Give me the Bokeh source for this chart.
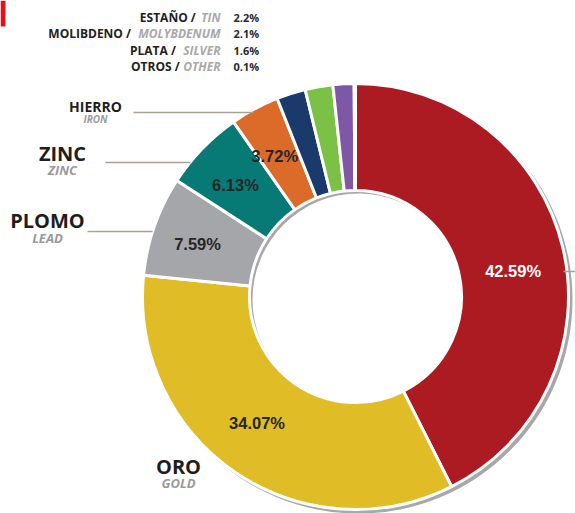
import math
from bokeh.plotting import figure
from bokeh.models import Range1d, ColumnDataSource
from bokeh.embed import file_html
from bokeh.resources import INLINE
from bokeh.core.properties import value

# ---------------- data ----------------
names_es = ["COBRE", "ORO", "PLOMO", "ZINC", "HIERRO", "ESTAÑO", "MOLIBDENO", "PLATA", "OTROS"]
names_en = ["COPPER", "GOLD", "LEAD", "ZINC", "IRON", "TIN", "MOLYBDENUM", "SILVER", "OTHER"]
shares = [42.59, 34.07, 7.59, 6.13, 3.72, 2.2, 2.1, 1.6, 0.1]
slice_labels = ["42.59%", "34.07%", "7.59%", "6.13%", "3.72%"]
legend_pct = ["2.2%", "2.1%", "1.6%", "0.1%"]
colors = ["#ad1b22", "#e0bc27", "#a5a6a9", "#077a76", "#dc6a28",
          "#1b3a6c", "#7bc145", "#7f58a5", "#c9c9c9"]

# ---------------- layout ----------------
W, H = 575, 513
def Y(y):
    return H - y

CX, CY = 355, Y(296)
R_OUT, R_IN = 213, 106

p = figure(width=W, height=H, x_range=Range1d(0, W), y_range=Range1d(0, H),
           output_backend="svg", toolbar_location=None, min_border=0)
p.axis.visible = False
p.grid.visible = False
p.outline_line_color = None
p.background_fill_color = "white"

total = sum(shares)
starts, ends, cum = [], [], 0.0
for s in shares:
    starts.append(math.pi / 2 - 2 * math.pi * cum / total)
    cum += s
    ends.append(math.pi / 2 - 2 * math.pi * cum / total)

src = ColumnDataSource(dict(x=[CX] * len(shares), y=[CY] * len(shares),
                            start=starts, end=ends, color=colors))

# soft shadow ring (offset right/down)
p.annular_wedge(x=CX + 3, y=CY - 3, inner_radius=R_IN, outer_radius=R_OUT + 1,
                start_angle=0, end_angle=2 * math.pi,
                fill_color="#a8a8a8", line_color=None)

p.annular_wedge(x="x", y="y", inner_radius=R_IN, outer_radius=R_OUT,
                start_angle="start", end_angle="end", direction="clock",
                fill_color="color", line_color="white", line_width=3, source=src)

# slice value labels
nudge = [(2, 12), (-8, -5), (-7, 1), (-5, 0), (-5, 0)]
lx, ly = [], []
for i, lab in enumerate(slice_labels):
    mid = (starts[i] + ends[i]) / 2
    rl = 160
    lx.append(CX + rl * math.cos(mid) + nudge[i][0])
    ly.append(CY + rl * math.sin(mid) - nudge[i][1])
lab_colors = ["white"] + ["#262626"] * (len(slice_labels) - 1)
p.text(x=lx, y=ly, text=slice_labels, text_align="center", text_baseline="middle",
       text_font=value("Liberation Sans"), text_font_style="bold",
       text_font_size="16.5px", text_color=lab_colors)

# outside category labels (Spanish bold + English italic)
out_idx = [1, 2, 3, 4]
out_pos = [(178, 466, 482, "20px", "13px"),
           (47, 220, 237, "20px", "13px"),
           (62, 153, 169, "20px", "13px"),
           (95, 106, 118, "14px", "10px")]
for k, i in enumerate(out_idx):
    x0, y1, y2, fs1, fs2 = out_pos[k]
    p.text(x=[x0], y=[Y(y1)], text=[names_es[i]], text_align="center",
           text_baseline="middle", text_font=value("Open Sans"),
           text_font_style="bold", text_font_size=fs1, text_color="#1e1e1e")
    p.text(x=[x0], y=[Y(y2)], text=[names_en[i]], text_align="center",
           text_baseline="middle", text_font=value("Open Sans"),
           text_font_style="bold italic", text_font_size=fs2, text_color="#9a9a9a")

# leader lines
leaders = [((133, 253), 112), ((105, 190), 162), ((87, 152), 231), ((563, 575), 271)]
for (xa, xb), yl in leaders:
    p.line(x=[xa, xb], y=[Y(yl), Y(yl)], line_color="#a7a294", line_width=1.5)

# small-share legend at the top
FS = 12
def est_w(s):
    w = 0.0
    for c in s:
        if c == "I":
            w += 0.32
        elif c in "MW":
            w += 1.0
        elif c in "BDNU":
            w += 0.66
        else:
            w += 0.58
    return w * FS

rows_y = [17, 33, 50, 66]
for k, i in enumerate(range(5, 9)):
    yy = Y(rows_y[k])
    ew = est_w(names_en[i])
    p.text(x=[220], y=[yy], text=[names_en[i]], text_align="right",
           text_baseline="middle", text_font=value("Open Sans"),
           text_font_style="bold italic", text_font_size=f"{FS}px", text_color="#a8a8a8")
    p.text(x=[220 - ew - 6], y=[yy], text=[names_es[i] + " /"], text_align="right",
           text_baseline="middle", text_font=value("Open Sans"),
           text_font_style="bold", text_font_size=f"{FS}px", text_color="#222222")
    p.text(x=[233], y=[yy], text=[legend_pct[k]], text_align="left",
           text_baseline="middle", text_font=value("Open Sans"),
           text_font_style="bold", text_font_size="11px", text_color="#2a2a2a")

# red page-edge mark at top-left
p.quad(left=[0], right=[5], top=[Y(0)], bottom=[Y(26)], fill_color="#e0121f", line_color=None)

open("out.html", "w").write(file_html(p, INLINE))
